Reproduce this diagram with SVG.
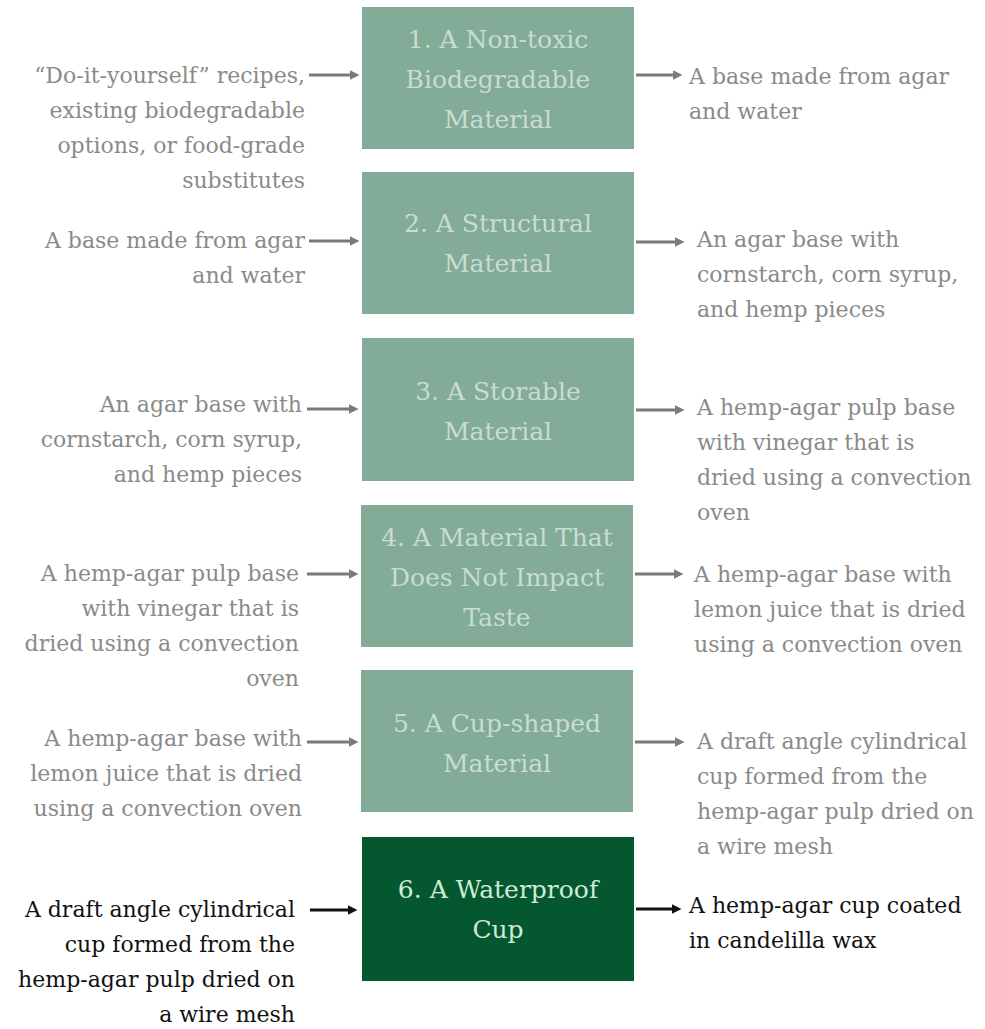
<svg xmlns="http://www.w3.org/2000/svg" width="985" height="1029" viewBox="0 0 985 1029">
<style>
.box{fill:#82ab98;}
.boxd{fill:#05572f;}
.bt{font-family:"DejaVu Serif","Liberation Serif",serif;font-size:25px;fill:#c8ddd0;text-anchor:middle;}
.btd{font-family:"DejaVu Serif","Liberation Serif",serif;font-size:25px;fill:#cdebd5;text-anchor:middle;}
.lt{font-family:"DejaVu Serif","Liberation Serif",serif;font-size:22px;fill:#8a8a8a;text-anchor:end;}
.rt{font-family:"DejaVu Serif","Liberation Serif",serif;font-size:22px;fill:#8a8a8a;text-anchor:start;}
.ltd{font-family:"DejaVu Serif","Liberation Serif",serif;font-size:22px;fill:#111;text-anchor:end;}
.rtd{font-family:"DejaVu Serif","Liberation Serif",serif;font-size:22px;fill:#111;text-anchor:start;}
.ag{stroke:#7a7a7a;stroke-width:3;fill:none;marker-end:url(#hg);}
.ab{stroke:#111;stroke-width:3;fill:none;marker-end:url(#hb);}
</style>
<defs>
<marker id="hg" viewBox="0 0 10 10" markerWidth="10" markerHeight="10" markerUnits="userSpaceOnUse" refX="0.5" refY="5" orient="auto"><path d="M0,0 L10,5 L0,10 z" fill="#7a7a7a"/></marker>
<marker id="hb" viewBox="0 0 10 10" markerWidth="10" markerHeight="10" markerUnits="userSpaceOnUse" refX="0.5" refY="5" orient="auto"><path d="M0,0 L10,5 L0,10 z" fill="#111"/></marker>
</defs>
<rect width="985" height="1029" fill="#fff"/>
<g id="node1">
<rect class="box" x="362" y="7" width="272" height="142"/>
<text class="bt" x="498" y="48">1. A Non-toxic</text>
<text class="bt" x="498" y="88">Biodegradable</text>
<text class="bt" x="498" y="128">Material</text>
</g>
<g id="node2">
<rect class="box" x="362" y="172" width="272" height="142"/>
<text class="bt" x="498" y="232">2. A Structural</text>
<text class="bt" x="498" y="272">Material</text>
</g>
<g id="node3">
<rect class="box" x="362" y="338" width="272" height="143"/>
<text class="bt" x="498" y="400">3. A Storable</text>
<text class="bt" x="498" y="440">Material</text>
</g>
<g id="node4">
<rect class="box" x="361" y="505" width="272" height="142"/>
<text class="bt" x="497" y="546">4. A Material That</text>
<text class="bt" x="497" y="586">Does Not Impact</text>
<text class="bt" x="497" y="626">Taste</text>
</g>
<g id="node5">
<rect class="box" x="361" y="670" width="272" height="142"/>
<text class="bt" x="497" y="732">5. A Cup-shaped</text>
<text class="bt" x="497" y="772">Material</text>
</g>
<g id="node6">
<rect class="boxd" x="362" y="837" width="272" height="144"/>
<text class="btd" x="498" y="898">6. A Waterproof</text>
<text class="btd" x="498" y="938">Cup</text>
</g>
<g id="inputs">
<text class="lt" x="305" y="83">“Do-it-yourself” recipes,</text>
<text class="lt" x="305" y="118">existing biodegradable</text>
<text class="lt" x="305" y="153">options, or food-grade</text>
<text class="lt" x="305" y="188">substitutes</text>
<text class="lt" x="305" y="248">A base made from agar</text>
<text class="lt" x="305" y="283">and water</text>
<text class="lt" x="302" y="412">An agar base with</text>
<text class="lt" x="302" y="447">cornstarch, corn syrup,</text>
<text class="lt" x="302" y="482">and hemp pieces</text>
<text class="lt" x="299" y="581">A hemp-agar pulp base</text>
<text class="lt" x="299" y="616">with vinegar that is</text>
<text class="lt" x="299" y="651">dried using a convection</text>
<text class="lt" x="299" y="686">oven</text>
<text class="lt" x="302" y="746">A hemp-agar base with</text>
<text class="lt" x="302" y="781">lemon juice that is dried</text>
<text class="lt" x="302" y="816">using a convection oven</text>
<text class="ltd" x="295" y="917">A draft angle cylindrical</text>
<text class="ltd" x="295" y="952">cup formed from the</text>
<text class="ltd" x="295" y="987">hemp-agar pulp dried on</text>
<text class="ltd" x="295" y="1022">a wire mesh</text>
</g>
<g id="outputs">
<text class="rt" x="689" y="84">A base made from agar</text>
<text class="rt" x="689" y="119">and water</text>
<text class="rt" x="697" y="247">An agar base with</text>
<text class="rt" x="697" y="282">cornstarch, corn syrup,</text>
<text class="rt" x="697" y="317">and hemp pieces</text>
<text class="rt" x="697" y="415">A hemp-agar pulp base</text>
<text class="rt" x="697" y="450">with vinegar that is</text>
<text class="rt" x="697" y="485">dried using a convection</text>
<text class="rt" x="697" y="520">oven</text>
<text class="rt" x="694" y="582">A hemp-agar base with</text>
<text class="rt" x="694" y="617">lemon juice that is dried</text>
<text class="rt" x="694" y="652">using a convection oven</text>
<text class="rt" x="697" y="749">A draft angle cylindrical</text>
<text class="rt" x="697" y="784">cup formed from the</text>
<text class="rt" x="697" y="819">hemp-agar pulp dried on</text>
<text class="rt" x="697" y="854">a wire mesh</text>
<text class="rtd" x="689" y="913">A hemp-agar cup coated</text>
<text class="rtd" x="689" y="948">in candelilla wax</text>
</g>
<g id="connectors">
<line class="ag" x1="309" y1="75" x2="350" y2="75"/>
<line class="ag" x1="636" y1="75" x2="673" y2="75"/>
<line class="ag" x1="309" y1="241" x2="350" y2="241"/>
<line class="ag" x1="636" y1="242" x2="675" y2="242"/>
<line class="ag" x1="307" y1="409" x2="349" y2="409"/>
<line class="ag" x1="636" y1="410" x2="675" y2="410"/>
<line class="ag" x1="307" y1="574" x2="349" y2="574"/>
<line class="ag" x1="635" y1="574" x2="674" y2="574"/>
<line class="ag" x1="307" y1="742" x2="349" y2="742"/>
<line class="ag" x1="635" y1="742" x2="675" y2="742"/>
<line class="ab" x1="310" y1="910" x2="348" y2="910"/>
<line class="ab" x1="636" y1="909" x2="672" y2="909"/>
</g>
</svg>
